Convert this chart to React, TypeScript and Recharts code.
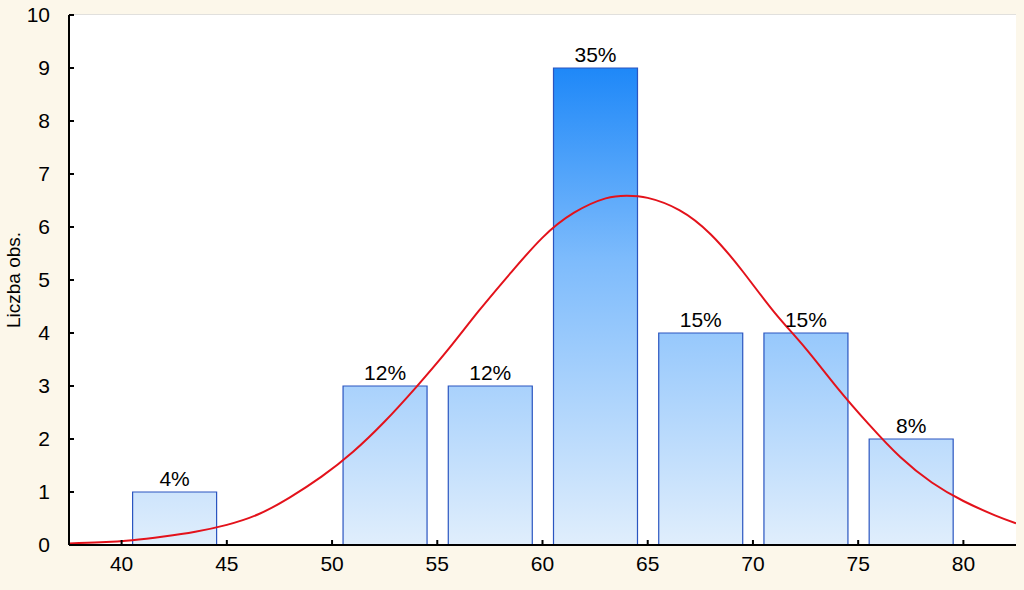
import React from 'react';
import {
  ComposedChart,
  Bar,
  Line,
  XAxis,
  YAxis,
  CartesianGrid,
  LabelList,
} from 'recharts';

// Histogram bins (centres), counts and percentage labels
const binCenters = [42.5, 47.5, 52.5, 57.5, 62.5, 67.5, 72.5, 77.5];
const binCounts = [1, 0, 3, 3, 9, 4, 4, 2];
const binLabels = ['4%', '', '12%', '12%', '35%', '15%', '15%', '8%'];

// Fitted normal curve
const curveX = [
  37.5, 39, 40.5, 42, 43.5, 45, 46.5, 48, 49.5, 51, 52.5, 54, 55.5, 57, 58.5, 60,
  61.5, 63, 64, 65, 66.5, 68, 69.5, 71, 72.5, 74, 75.5, 77, 78.5, 80, 81.5, 82.5,
];
const curveY = [
  0.03, 0.05, 0.09, 0.16, 0.25, 0.38, 0.58, 0.9, 1.29, 1.76, 2.33, 2.98, 3.68, 4.43,
  5.14, 5.8, 6.27, 6.54, 6.59, 6.55, 6.32, 5.86, 5.17, 4.4, 3.71, 2.97, 2.28, 1.66,
  1.18, 0.83, 0.56, 0.41,
];

const xTicks = [40, 45, 50, 55, 60, 65, 70, 75, 80];
const yTicks = [0, 1, 2, 3, 4, 5, 6, 7, 8, 9, 10];
const yLabel = 'Liczba obs.';

const barData = binCenters.map((x, i) => ({ x, count: binCounts[i], label: binLabels[i] }));
const curveData = curveX.map((x, i) => ({ x, curve: curveY[i] }));

const FONT = 'Liberation Sans, Arial, sans-serif';

export default function App() {
  return (
    <div
      style={{
        position: 'absolute',
        left: 0,
        top: 0,
        width: 1024,
        height: 590,
        background: '#FCF7EA',
        fontFamily: FONT,
      }}
    >
      <ComposedChart
        width={1024}
        height={590}
        data={barData}
        margin={{ top: 15, right: 8, bottom: 0, left: 0 }}
      >
        <defs>
          <linearGradient id="barGrad" gradientUnits="userSpaceOnUse" x1="0" y1="15" x2="0" y2="545">
            <stop offset="0" stopColor="#0E7CF5" />
            <stop offset="0.1" stopColor="#1E88F8" />
            <stop offset="0.46" stopColor="#7DBBFC" />
            <stop offset="1" stopColor="#E0EEFC" />
          </linearGradient>
        </defs>
        <rect x={69} y={15} width={947} height={530} fill="#FFFFFF" />
        <CartesianGrid
          xAxisId="b"
          yAxisId="l"
          vertical={false}
          stroke="#D9D9D9"
          strokeWidth={1.5}
          horizontalValues={yTicks}
        />
        <XAxis
          xAxisId="bars"
          dataKey="x"
          type="number"
          domain={[37.5, 82.5]}
          allowDataOverflow
          hide
        />
        <XAxis
          xAxisId="b"
          dataKey="x"
          type="number"
          domain={[37.5, 82.5]}
          ticks={xTicks}
          allowDataOverflow
          height={45}
          axisLine={{ stroke: '#000', strokeWidth: 2 }}
          tickLine={{ stroke: '#000', strokeWidth: 2 }}
          tickSize={-5}
          tickMargin={16}
          tick={{ fill: '#000', fontSize: 21, fontFamily: FONT }}
        />
        <XAxis
          xAxisId="t"
          orientation="top"
          type="number"
          domain={[37.5, 82.5]}
          ticks={xTicks}
          allowDataOverflow
          height={0}
          axisLine={{ stroke: '#000', strokeWidth: 2 }}
          tickLine={{ stroke: '#000', strokeWidth: 2 }}
          tickSize={-5}
          tick={false}
        />
        <YAxis
          yAxisId="l"
          type="number"
          domain={[0, 10]}
          ticks={yTicks}
          allowDataOverflow
          width={69}
          axisLine={{ stroke: '#000', strokeWidth: 2 }}
          tickLine={{ stroke: '#000', strokeWidth: 2 }}
          tickSize={-5}
          tickMargin={24}
          tick={{ fill: '#000', fontSize: 21, fontFamily: FONT }}
          label={{
            content: (props: any) => {
              const vb = props.viewBox || {};
              const cx = 13;
              const cy = (vb.y ?? 15) + (vb.height ?? 530) / 2;
              return (
                <text
                  x={cx}
                  y={cy}
                  transform={`rotate(-90, ${cx}, ${cy})`}
                  textAnchor="middle"
                  dominantBaseline="central"
                  fontSize={19}
                  fontFamily={FONT}
                  fill="#000"
                >
                  {yLabel}
                </text>
              );
            },
          }}
        />
        <YAxis
          yAxisId="r"
          orientation="right"
          type="number"
          domain={[0, 10]}
          ticks={yTicks}
          allowDataOverflow
          width={0}
          axisLine={{ stroke: '#000', strokeWidth: 2 }}
          tickLine={{ stroke: '#000', strokeWidth: 2 }}
          tickSize={-5}
          tick={false}
        />
        <Bar
          xAxisId="bars"
          yAxisId="l"
          dataKey="count"
          barSize={84}
          fill="url(#barGrad)"
          stroke="#2A55C0"
          strokeWidth={1.2}
          isAnimationActive={false}
        >
          <LabelList
            dataKey="label"
            position="top"
            offset={6}
            fill="#000"
            fontSize={21}
            fontFamily={FONT}
          />
        </Bar>
        <Line
          xAxisId="b"
          yAxisId="l"
          data={curveData}
          dataKey="curve"
          type="natural"
          stroke="#E3121B"
          strokeWidth={2}
          dot={false}
          activeDot={false}
          isAnimationActive={false}
        />
      </ComposedChart>
    </div>
  );
}
